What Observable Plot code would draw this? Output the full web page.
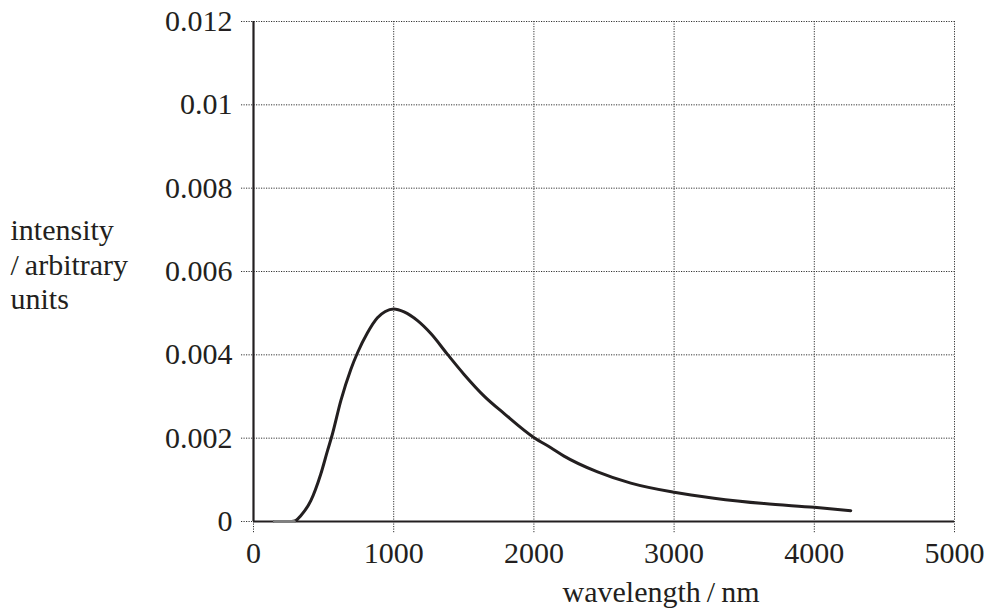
<!DOCTYPE html>
<html>
<head>
<meta charset="utf-8">
<script src="https://cdn.jsdelivr.net/npm/d3@7"></script>
<script src="https://cdn.jsdelivr.net/npm/@observablehq/plot@0.6"></script>
<style>
  html, body { margin: 0; padding: 0; background: #fff; }
  #chart svg { display: block; }
</style>
</head>
<body>
<div id="chart"></div>
<script>
// Data
const wavelength = [150, 270, 300, 337, 409, 480, 528, 563, 623, 694, 742, 813, 884, 940, 1000, 1074, 1170, 1265, 1384, 1502, 1645, 1788, 2002, 2121, 2215, 2454, 2691, 3000, 3285, 3642, 3999, 4260];
const intensity  = [0, 0, 0.00002, 0.00014, 0.0005, 0.00114, 0.0017, 0.0021, 0.0029, 0.00365, 0.00405, 0.00453, 0.00489, 0.00504, 0.0051, 0.00503, 0.00482, 0.00451, 0.00401, 0.00353, 0.00301, 0.00259, 0.00201, 0.00177, 0.00157, 0.00119, 0.00092, 0.0007, 0.00056, 0.00043, 0.00034, 0.00026];
const flatWavelength = [150, 290];
const flatIntensity = [0, 0];
const xTicks = [0, 1000, 2000, 3000, 4000, 5000];
const xTickLabels = ["0", "1000", "2000", "3000", "4000", "5000"];
const yTicks = [0, 0.002, 0.004, 0.006, 0.008, 0.01, 0.012];
const yTickLabels = ["0", "0.002", "0.004", "0.006", "0.008", "0.01", "0.012"];
const xLabel = "wavelength\u2009/\u2009nm";
const yLabel = "intensity\n/\u2009arbitrary\nunits";

const data = wavelength.map((w, i) => ({w, v: intensity[i]}));
const flat = flatWavelength.map((w, i) => ({w, v: flatIntensity[i]}));
const ink = "#231f20";
const serif = "Liberation Serif";
const gridOpts = {stroke: "#333", strokeOpacity: 1, strokeWidth: 1, strokeDasharray: "1.2,1.3"};

const chart = Plot.plot({
  width: 988,
  height: 610,
  marginLeft: 253,
  marginRight: 34,
  marginTop: 21,
  marginBottom: 89,
  style: "font-family: 'Liberation Serif'; font-size: 30px; color: #231f20; background: #fff;",
  x: {domain: [0, 5000], ticks: xTicks},
  y: {domain: [0, 0.012], ticks: yTicks},
  marks: [
    Plot.gridX(xTicks, {...gridOpts, insetBottom: -12}),
    Plot.gridY(yTicks, {...gridOpts, insetLeft: -12}),
    Plot.axisX(xTicks, {tickSize: 0, tickPadding: 20, label: null, fontSize: 30, fontFamily: serif, fill: ink,
      tickFormat: (d) => xTickLabels[xTicks.indexOf(d)]}),
    Plot.axisY(yTicks, {tickSize: 0, tickPadding: 21, label: null, fontSize: 30, fontFamily: serif, fill: ink,
      tickFormat: (d) => yTickLabels[yTicks.indexOf(d)]}),
    Plot.ruleX([0], {stroke: ink, strokeWidth: 2.2}),
    Plot.ruleY([0], {stroke: ink, strokeWidth: 2.2}),
    Plot.line(data, {x: "w", y: "v", curve: "monotone-x", stroke: ink, strokeWidth: 3}),
    Plot.line(flat, {x: "w", y: "v", stroke: "#808080", strokeWidth: 3.2}),
    Plot.text([xLabel], {frameAnchor: "bottom", dx: 57, dy: 80, lineAnchor: "bottom", fontSize: 30, fontFamily: serif, fill: ink}),
    Plot.text([yLabel], {frameAnchor: "left", dx: -243, dy: -8, textAnchor: "start", lineAnchor: "middle", lineHeight: 1.15, fontSize: 30, fontFamily: serif, fill: ink})
  ]
});
document.getElementById("chart").appendChild(chart);
</script>
</body>
</html>
